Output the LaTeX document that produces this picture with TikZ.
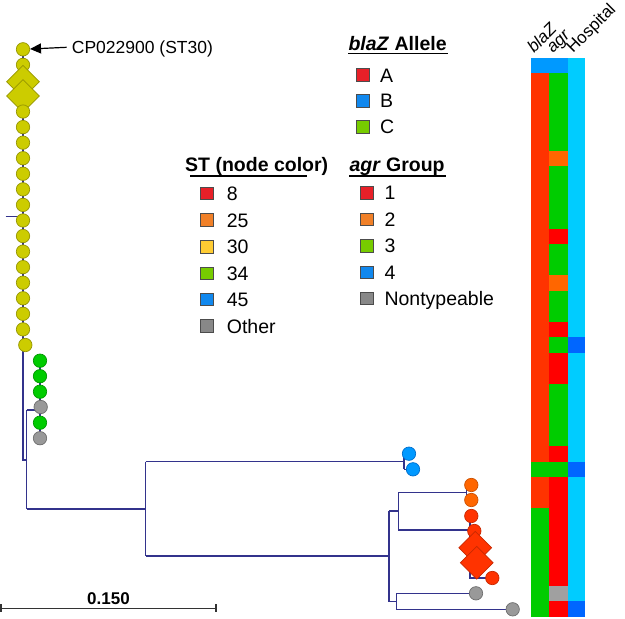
\documentclass[tikz,border=0pt]{standalone}
\usepackage{fontspec}
\setmainfont{Liberation Sans}
\usetikzlibrary{shapes.geometric,arrows.meta}
\definecolor{treeline}{RGB}{51,51,140}
\definecolor{Yfill}{RGB}{204,204,0}\definecolor{Ydraw}{RGB}{150,150,0}
\definecolor{Gfill}{RGB}{0,204,0}\definecolor{Gdraw}{RGB}{0,150,0}
\definecolor{Grfill}{RGB}{153,153,153}\definecolor{Grdraw}{RGB}{110,110,110}
\definecolor{Bfill}{RGB}{0,153,255}\definecolor{Bdraw}{RGB}{0,110,204}
\definecolor{Ofill}{RGB}{255,102,0}\definecolor{Odraw}{RGB}{204,80,0}
\definecolor{Rfill}{RGB}{255,51,0}\definecolor{Rdraw}{RGB}{200,40,0}
\definecolor{LR}{RGB}{232,32,40}\definecolor{LO}{RGB}{240,128,40}
\definecolor{LY}{RGB}{255,204,51}\definecolor{LG}{RGB}{119,204,0}
\definecolor{LB}{RGB}{17,136,238}\definecolor{LGr}{RGB}{136,136,136}
\definecolor{hr}{RGB}{255,51,0}\definecolor{ar}{RGB}{255,0,0}
\definecolor{hg}{RGB}{0,204,0}\definecolor{ho}{RGB}{255,102,0}
\definecolor{hb}{RGB}{0,153,255}\definecolor{hc}{RGB}{0,204,255}
\definecolor{hdb}{RGB}{0,102,255}\definecolor{hgray}{RGB}{160,160,160}
\newcommand\hcell[5]{\fill[#5] (#1,{57.7+15.536*#3}) rectangle ({#1+#2},{57.7+15.536*(#3+#4)});}
\begin{document}
\begin{tikzpicture}[x=1pt,y=-1pt,
  tree/.style={draw=treeline,line width=1.1pt},
  leaf/.style={circle,inner sep=0,minimum size=13.4pt,line width=0.7pt},
  dia/.style={diamond,inner sep=0,minimum width=33pt,minimum height=33pt,line width=0.7pt},
  yl/.style={leaf,fill=Yfill,draw=Ydraw},
  gl/.style={leaf,fill=Gfill,draw=Gdraw},
  grl/.style={leaf,fill=Grfill,draw=Grdraw},
  bl/.style={leaf,fill=Bfill,draw=Bdraw},
  ol/.style={leaf,fill=Ofill,draw=Odraw},
  rl/.style={leaf,fill=Rfill,draw=Rdraw},
  lsq/.style={draw=black!70,line width=0.8pt,minimum size=12.5pt,inner sep=0},
  ltxt/.style={anchor=base west,inner sep=0,font=\fontsize{19.5}{22}\selectfont},
  lhead/.style={anchor=base west,inner sep=0,font=\fontsize{19.5}{22}\selectfont\bfseries},
  uline/.style={draw=black,line width=1.4pt},
  htxt/.style={anchor=base west,inner sep=0,rotate=45,font=\fontsize{17}{19}\selectfont}]
\useasboundingbox (0,0) rectangle (625,619);
% ---------- heatmap ----------
\hcell{531.3}{18}{0}{36}{hr}
\hcell{531.3}{18}{0}{1}{hb}
\hcell{531.3}{18}{26}{1}{hg}
\hcell{531.3}{18}{29}{7}{hg}
\hcell{549.3}{18.4}{0}{36}{hg}
\hcell{549.3}{18.4}{0}{1}{hb}
\hcell{549.3}{18.4}{6}{1}{ho}
\hcell{549.3}{18.4}{11}{1}{ar}
\hcell{549.3}{18.4}{14}{1}{ho}
\hcell{549.3}{18.4}{17}{1}{ar}
\hcell{549.3}{18.4}{19}{2}{ar}
\hcell{549.3}{18.4}{25}{1}{ar}
\hcell{549.3}{18.4}{27}{7}{ar}
\hcell{549.3}{18.4}{34}{1}{hgray}
\hcell{549.3}{18.4}{35}{1}{ar}
\hcell{567.7}{17.6}{0}{36}{hc}
\hcell{567.7}{17.6}{18}{1}{hdb}
\hcell{567.7}{17.6}{26}{1}{hdb}
\hcell{567.7}{17.6}{35}{1}{hdb}
\node[htxt] (hblaz) at (534,54) {\itshape blaZ};
\node[htxt] (hagr) at (553,54) {\itshape agr};
\node[htxt] (hhosp) at (573,54) {Hospital};
% ---------- tree coordinates ----------
\foreach \k in {0,...,18} \coordinate (Y\k) at (23,{49.3+15.56*\k});
\coordinate (Y19) at (25.3,345);
\coordinate (rootstub) at (5.7,216.5);
\coordinate (ya) at (23,216.5);
\coordinate (ybot) at (23,460);
\coordinate (j) at (26.7,460);
\coordinate (n1a) at (26.7,410);
\coordinate (n1b) at (26.7,509);
\foreach \k in {0,...,5} \coordinate (G\k) at (40,{360.7+15.5*\k});
\coordinate (gst) at (40,410);
\coordinate (o1) at (145.7,509);
\coordinate (o1t) at (145.7,461.7);
\coordinate (o1b) at (145.7,556);
\coordinate (bn) at (404,461.7);
\coordinate (bnt) at (404,453.7);
\coordinate (bnb) at (404,469.3);
\coordinate (B1) at (409,453.7);
\coordinate (B2) at (413,469.3);
\coordinate (cn) at (389,556);
\coordinate (cnt) at (389,511);
\coordinate (cnb) at (389,601.7);
\coordinate (dn) at (398.3,511);
\coordinate (dnt) at (398.3,492.7);
\coordinate (dnb) at (398.3,530);
\coordinate (en) at (466.7,492.7);
\coordinate (ent) at (466.7,485);
\coordinate (enb) at (466.7,500);
\coordinate (O1) at (471.3,485);
\coordinate (O2) at (471.3,500);
\coordinate (fn) at (470,530);
\coordinate (fnt) at (470,516);
\coordinate (fnb) at (470,578);
\coordinate (R1) at (471.3,516);
\coordinate (R2) at (474.3,531);
\coordinate (R3) at (475.3,547.7);
\coordinate (R4) at (476.7,562.7);
\coordinate (R5) at (492.3,578);
\coordinate (hn) at (396.3,601.7);
\coordinate (hnt) at (396.3,593.3);
\coordinate (hnb) at (396.3,609.3);
\coordinate (X1) at (476,593.3);
\coordinate (X2) at (512.7,609.3);
% ---------- tree lines ----------
\draw[tree] (rootstub) -- (ya);
\draw[tree] (Y0) -- (ybot) -- (j);
\draw[tree] (n1a) -- (n1b);
\draw[tree] (n1a) -- (gst);
\draw[tree] (G0) -- (G5);
\draw[tree] (n1b) -- (o1);
\draw[tree] (o1t) -- (o1b);
\draw[tree] (o1t) -- (bn);
\draw[tree] (bnt) -- (bnb);
\draw[tree] (bnt) -- (B1);
\draw[tree] (bnb) -- (B2);
\draw[tree] (o1b) -- (cn);
\draw[tree] (cnt) -- (cnb);
\draw[tree] (cnt) -- (dn);
\draw[tree] (dnt) -- (dnb);
\draw[tree] (dnt) -- (en);
\draw[tree] (ent) -- (enb);
\draw[tree] (dnb) -- (fn);
\draw[tree] (fnt) -- (fnb) -- (R5);
\draw[tree] (cnb) -- (hn);
\draw[tree] (hnt) -- (hnb);
\draw[tree] (hnt) -- (X1);
\draw[tree] (hnb) -- (X2);
% ---------- leaves ----------
\node[yl] (y0) at (Y0) {};
\node[yl] (y1) at (Y1) {};
\node[dia,fill=Yfill,draw=Ydraw] (y2) at (23,81.7) {};
\node[dia,fill=Yfill,draw=Ydraw] (y3) at (23,96) {};
\foreach \k in {4,...,19} \node[yl] (y\k) at (Y\k) {};
\node[gl] (g0) at (G0) {};
\node[gl] (g1) at (G1) {};
\node[gl] (g2) at (G2) {};
\node[grl] (g3) at (40.7,407) {};
\node[gl] (g4) at (G4) {};
\node[grl] (g5) at (G5) {};
\node[bl] (b1) at (B1) {};
\node[bl] (b2) at (B2) {};
\node[ol] (o1n) at (O1) {};
\node[ol] (o2n) at (O2) {};
\node[rl] (r1) at (R1) {};
\node[rl] (r2) at (R2) {};
\node[dia,fill=Rfill,draw=Rdraw] (r3) at (R3) {};
\node[dia,fill=Rfill,draw=Rdraw] (r4) at (R4) {};
\node[rl] (r5) at (R5) {};
\node[grl] (x1) at (X1) {};
\node[grl] (x2) at (X2) {};
% ---------- reference label ----------
\node[anchor=base west,inner sep=0,font=\fontsize{17.5}{20}\selectfont] (cp) at (71.7,53) {CP022900 (ST30)};
\coordinate (arrs) at (66.7,47.3);
\draw[-{Triangle[length=11pt,width=10pt]},line width=1.2pt] (arrs) -- (y0);
% ---------- legends ----------
\node[lhead] (lbz) at (348.3,50.7) {\textit{blaZ} Allele};
\draw[uline] (lbz.south west) ++(0,2.5) -- ++(100,0);
\node[lsq,fill=LR] (bzA) at (362.7,75) {};
\node[lsq,fill=LB] (bzB) at (362.7,100.7) {};
\node[lsq,fill=LG] (bzC) at (362.7,126.7) {};
\node[ltxt] at (380,82) {A};
\node[ltxt] at (380,107.7) {B};
\node[ltxt] at (380,133.7) {C};
\node[lhead] (lst) at (185,171.7) {ST (node color)};
\coordinate (stu0) at (190,176);
\coordinate (stu1) at (306.7,176);
\draw[uline] (stu0) -- (stu1);
\node[lsq,fill=LR] (s8) at (206.7,193.3) {};
\node[lsq,fill=LO] (s25) at (206.7,220) {};
\node[lsq,fill=LY] (s30) at (206.7,246.7) {};
\node[lsq,fill=LG] (s34) at (206.7,273.3) {};
\node[lsq,fill=LB] (s45) at (206.7,299.3) {};
\node[lsq,fill=LGr] (sO) at (206.7,326) {};
\node[ltxt] at (226.7,200.3) {8};
\node[ltxt] at (226.7,227) {25};
\node[ltxt] at (226.7,253.7) {30};
\node[ltxt] at (226.7,280.3) {34};
\node[ltxt] at (226.7,306.3) {45};
\node[ltxt] at (226.7,333) {Other};
\node[lhead] (lagr) at (349.3,171.7) {\textit{agr} Group};
\coordinate (agu0) at (349.3,176);
\coordinate (agu1) at (446,176);
\draw[uline] (agu0) -- (agu1);
\node[lsq,fill=LR] (a1) at (366.7,192.7) {};
\node[lsq,fill=LO] (a2) at (366.7,219.3) {};
\node[lsq,fill=LG] (a3) at (366.7,245.7) {};
\node[lsq,fill=LB] (a4) at (366.7,272.3) {};
\node[lsq,fill=LGr] (aN) at (366.7,298.3) {};
\node[ltxt] at (384.3,199.7) {1};
\node[ltxt] at (384.3,226.3) {2};
\node[ltxt] at (384.3,252.7) {3};
\node[ltxt] at (384.3,279.3) {4};
\node[ltxt] at (384.3,305.3) {Nontypeable};
% ---------- scale bar ----------
\coordinate (sb0) at (1,608.3);
\coordinate (sb1) at (216,608.3);
\draw[line width=1.1pt,black!80] (sb0) -- (sb1);
\draw[line width=1.1pt,black!80] (sb0) ++(0,-4) -- ++(0,8);
\draw[line width=1.1pt,black!80] (sb1) ++(0,-4) -- ++(0,8);
\node[anchor=base,inner sep=0,font=\fontsize{17}{19}\selectfont\bfseries] (sbl) at (108.5,604) {0.150};
\end{tikzpicture}
\end{document}
